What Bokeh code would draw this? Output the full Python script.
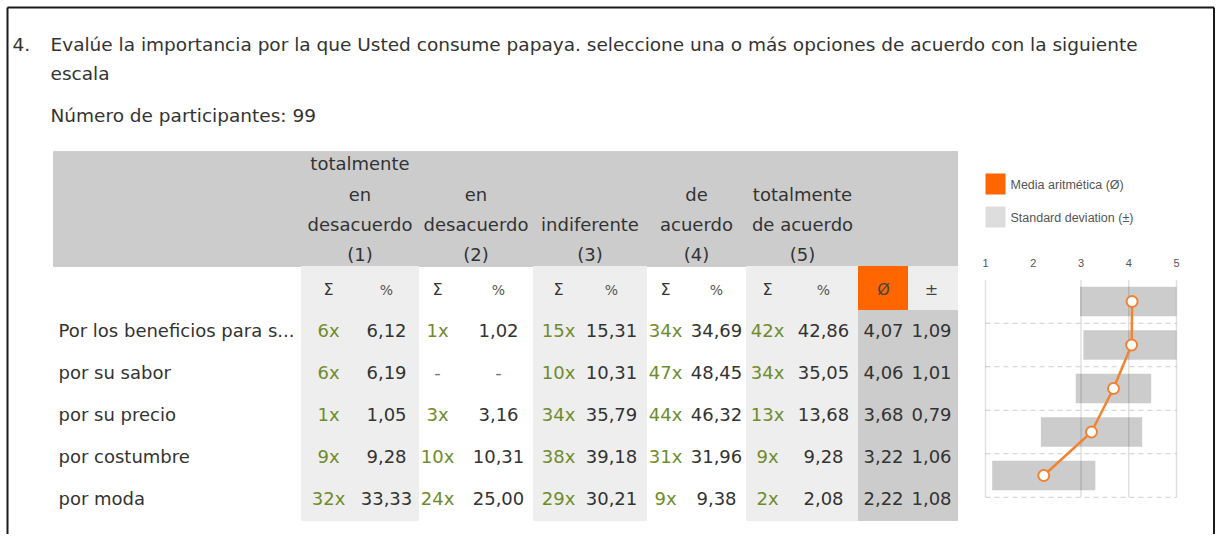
from bokeh.plotting import figure
from bokeh.models import Range1d
from bokeh.embed import file_html
from bokeh.resources import INLINE
from bokeh.core.properties import value

# ---------------- data ----------------
title_num = "4."
title_line1 = "Evalúe la importancia por la que Usted consume papaya. seleccione una o más opciones de acuerdo con la siguiente"
title_line2 = "escala"
participants = "Número de participantes: 99"

rows = ["Por los beneficios para s...", "por su sabor", "por su precio", "por costumbre", "por moda"]

count_1 = [6, 6, 1, 9, 32]
pct_1 = [6.12, 6.19, 1.05, 9.28, 33.33]
count_2 = [1, None, 3, 10, 24]
pct_2 = [1.02, None, 3.16, 10.31, 25.00]
count_3 = [15, 10, 34, 38, 29]
pct_3 = [15.31, 10.31, 35.79, 39.18, 30.21]
count_4 = [34, 47, 44, 31, 9]
pct_4 = [34.69, 48.45, 46.32, 31.96, 9.38]
count_5 = [42, 34, 13, 9, 2]
pct_5 = [42.86, 35.05, 13.68, 9.28, 2.08]
means = [4.07, 4.06, 3.68, 3.22, 2.22]
sds = [1.09, 1.01, 0.79, 1.06, 1.08]

scale_ticks = [1, 2, 3, 4, 5]
legend_labels = ["Media aritmética (Ø)", "Standard deviation (±)"]

# header words (text, column group index, line index)
header_words = [
    ("totalmente", 0, 0), ("en", 0, 1), ("desacuerdo", 0, 2), ("(1)", 0, 3),
    ("en", 1, 1), ("desacuerdo", 1, 2), ("(2)", 1, 3),
    ("indiferente", 2, 2), ("(3)", 2, 3),
    ("de", 3, 1), ("acuerdo", 3, 2), ("(4)", 3, 3),
    ("totalmente", 4, 1), ("de acuerdo", 4, 2), ("(5)", 4, 3),
]

# ---------------- layout ----------------
W, H = 1215, 534
FONT = value("DejaVu Sans")
TXT = "#333333"
GREEN = "#6f8c2c"
FS = "18px"

p = figure(width=W, height=H, x_range=Range1d(0, W), y_range=Range1d(H, 0),
           output_backend="svg", toolbar_location=None, min_border=0,
           x_axis_type=None, y_axis_type=None)
p.grid.visible = False
p.outline_line_color = None
p.background_fill_color = "white"
p.border_fill_color = "white"

# mini chart scales: 1 -> px 985, 5 -> px 1176 ; row r -> px 301 + 43.5 r
px1, px5 = 985.0, 1176.0
ppu = (px5 - px1) / 4.0
p.extra_x_ranges = {"mini": Range1d(1 + (0 - px1) / ppu, 1 + (W - px1) / ppu)}
ry0, rstep = 301.0, 43.5
p.extra_y_ranges = {"rows": Range1d((H - ry0) / rstep, (0 - ry0) / rstep)}

# frame
p.segment(x0=[7, 7, 1213.5], y0=[7, 7, 7], x1=[7, 1213.5, 1213.5], y1=[600, 7, 600],
          line_color="#1a1a1a", line_width=2)

# title
p.text(x=[12], y=[44], text=[title_num], text_font=FONT, text_font_size="18.5px",
       text_color=TXT, text_baseline="middle")
p.text(x=[50, 50], y=[44, 73], text=[title_line1, title_line2], text_font=FONT,
       text_font_size="18.5px", text_color=TXT, text_baseline="middle")
p.text(x=[50], y=[115], text=[participants], text_font=FONT, text_font_size="18.5px",
       text_color=TXT, text_baseline="middle")

# table backgrounds
group_edges = [301, 418, 533, 646, 746, 858]
p.quad(left=[53], right=[957], top=[151], bottom=[266], color="#cccccc")
p.quad(left=[group_edges[0], group_edges[2], group_edges[4]],
       right=[group_edges[1], group_edges[3], group_edges[5]],
       top=[266] * 3, bottom=[520] * 3, color="#eeeeee")
p.quad(left=[858], right=[908], top=[266], bottom=[310], color="#ff6600")
p.quad(left=[908], right=[957], top=[266], bottom=[310], color="#eeeeee")
p.quad(left=[858], right=[957], top=[310], bottom=[520], color="#cccccc")

# header words
group_centres = [(group_edges[i] + group_edges[i + 1]) / 2 for i in range(5)]
line_y = [163, 193.5, 224, 254]
p.text(x=[group_centres[g] for (_, g, _) in header_words],
       y=[line_y[l] for (_, _, l) in header_words],
       text=[w for (w, _, _) in header_words], text_font=FONT, text_font_size=FS,
       text_color=TXT, text_align="center", text_baseline="middle")

# sub header
col_x = [328, 386, 437, 498, 558, 611, 665, 716, 767, 823]
p.text(x=col_x[0::2], y=[289] * 5, text=["Σ"] * 5, text_font=FONT, text_font_size="16px",
       text_color=TXT, text_align="center", text_baseline="middle")
p.text(x=col_x[1::2], y=[289] * 5, text=["%"] * 5, text_font=FONT, text_font_size="14px",
       text_color="#555555", text_align="center", text_baseline="middle")
p.text(x=[883, 931], y=[289, 289], text=["Ø", "±"], text_font=FONT, text_font_size="16px",
       text_color="#444444", text_align="center", text_baseline="middle")

# body
row_y = [330 + 42.1 * i for i in range(len(rows))]
p.text(x=[58] * len(rows), y=row_y, text=rows, text_font=FONT, text_font_size=FS,
       text_color=TXT, text_baseline="middle")


def fmt_pct(v):
    return "-" if v is None else f"{v:.2f}".replace(".", ",")


def fmt_cnt(c):
    return "-" if c is None else f"{c}x"


counts = [count_1, count_2, count_3, count_4, count_5]
pcts = [pct_1, pct_2, pct_3, pct_4, pct_5]
for g in range(5):
    ctext = [fmt_cnt(c) for c in counts[g]]
    ccol = ["#777777" if c is None else GREEN for c in counts[g]]
    p.text(x=[col_x[2 * g]] * len(rows), y=row_y, text=ctext, text_color=ccol,
           text_font=FONT, text_font_size=FS, text_align="center", text_baseline="middle")
    pcol = ["#777777" if v is None else TXT for v in pcts[g]]
    p.text(x=[col_x[2 * g + 1]] * len(rows), y=row_y, text=[fmt_pct(v) for v in pcts[g]],
           text_font=FONT, text_font_size=FS, text_color=pcol, text_align="center",
           text_baseline="middle")
p.text(x=[883] * len(rows), y=row_y, text=[fmt_pct(v) for v in means], text_font=FONT,
       text_font_size=FS, text_color=TXT, text_align="center", text_baseline="middle")
p.text(x=[931] * len(rows), y=row_y, text=[fmt_pct(v) for v in sds], text_font=FONT,
       text_font_size=FS, text_color=TXT, text_align="center", text_baseline="middle")

# legend
p.quad(left=[985, 985], right=[1005, 1005], top=[173, 206], bottom=[194, 227],
       fill_color=["#ff6600", "#dddddd"], line_color=None)
p.text(x=[1010, 1010], y=[184, 217], text=legend_labels, text_font=value("Liberation Sans"),
       text_font_size="12.5px", text_color="#555555", text_baseline="middle")

# mini chart
n = len(rows)
ridx = list(range(n))
p.text(x=scale_ticks, y=[262] * len(scale_ticks), text=[str(t) for t in scale_ticks],
       x_range_name="mini", text_font=value("Liberation Sans"), text_font_size="11px",
       text_color="#555555", text_align="center", text_baseline="middle")
p.segment(x0=[1] * n, x1=[5] * n, y0=[r + 0.5 for r in ridx], y1=[r + 0.5 for r in ridx],
          x_range_name="mini", y_range_name="rows", line_color="#cccccc", line_width=1,
          line_dash="5 4")
lo = [max(1, m - s) for m, s in zip(means, sds)]
hi = [min(5, m + s) for m, s in zip(means, sds)]
p.hbar(y=ridx, left=lo, right=hi, height=0.68, x_range_name="mini", y_range_name="rows",
       fill_color="#cccccc", line_color=None)
grid_vals = [1, 3, 4, 5]
p.segment(x0=grid_vals, x1=grid_vals, y0=[-0.5] * 4, y1=[n - 0.5] * 4,
          x_range_name="mini", y_range_name="rows", line_color="#000000", line_alpha=0.12,
          line_width=1.5)
p.line(x=means, y=ridx, x_range_name="mini", y_range_name="rows", line_color="#f28333",
       line_width=2.5)
p.scatter(x=means, y=ridx, x_range_name="mini", y_range_name="rows", size=11,
          fill_color="white", line_color="#f28333", line_width=2)

open("out.html", "w").write(file_html(p, INLINE))
